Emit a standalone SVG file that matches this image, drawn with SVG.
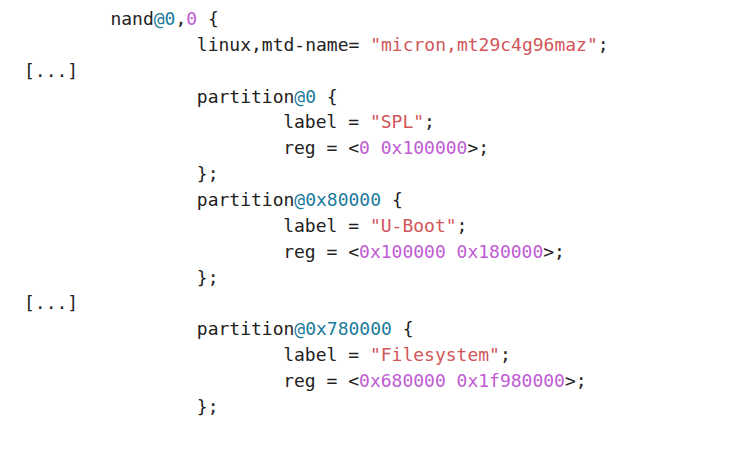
<svg xmlns="http://www.w3.org/2000/svg" width="750" height="457" viewBox="0 0 750 457">
<style>
text{font-family:"DejaVu Sans Mono","Liberation Mono",monospace;font-size:18px;fill:#222;}
.at{fill:#1b7a9c}
.n{fill:#c05bd4}
.s{fill:#d1565a}
</style>
<rect width="750" height="457" fill="#fff"/>
<g id="code" xml:space="preserve">
<text x="110.4" y="25">nand<tspan class="at">@0</tspan>,<tspan class="n">0</tspan> {</text>
<text x="196.8" y="50.9">linux,mtd-name= <tspan class="s">"micron,mt29c4g96maz"</tspan>;</text>
<text x="24" y="76.7">[...]</text>
<text x="196.8" y="102.6">partition<tspan class="at">@0</tspan> {</text>
<text x="283.2" y="128.4">label = <tspan class="s">"SPL"</tspan>;</text>
<text x="283.2" y="154.3">reg = &lt;<tspan class="n">0 0x100000</tspan>&gt;;</text>
<text x="196.8" y="180.1">};</text>
<text x="196.8" y="206">partition<tspan class="at">@0x80000</tspan> {</text>
<text x="283.2" y="231.8">label = <tspan class="s">"U-Boot"</tspan>;</text>
<text x="283.2" y="257.7">reg = &lt;<tspan class="n">0x100000 0x180000</tspan>&gt;;</text>
<text x="196.8" y="283.5">};</text>
<text x="24" y="309.4">[...]</text>
<text x="196.8" y="335.2">partition<tspan class="at">@0x780000</tspan> {</text>
<text x="283.2" y="361.1">label = <tspan class="s">"Filesystem"</tspan>;</text>
<text x="283.2" y="386.9">reg = &lt;<tspan class="n">0x680000 0x1f980000</tspan>&gt;;</text>
<text x="196.8" y="412.8">};</text>
</g>
</svg>
